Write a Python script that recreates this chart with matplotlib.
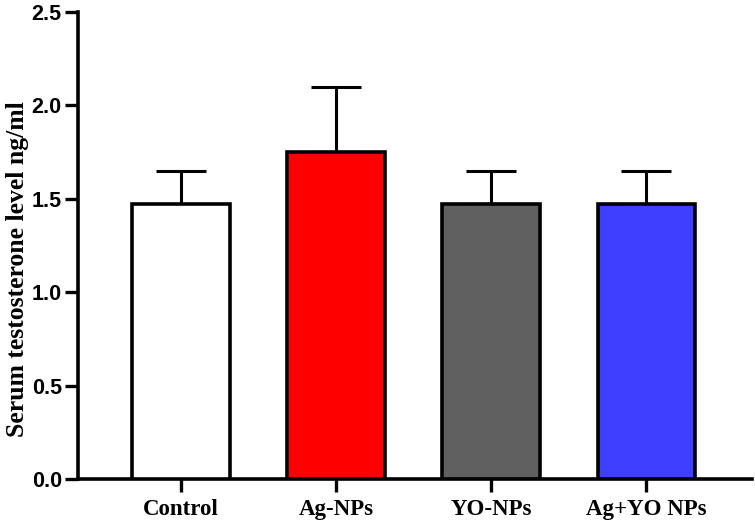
import matplotlib
matplotlib.use("Agg")
import matplotlib.pyplot as plt

# data
groups = ["Control", "Ag-NPs", "YO-NPs", "Ag+YO NPs"]
means = [1.47, 1.75, 1.47, 1.47]
errors = [0.18, 0.35, 0.18, 0.18]
colors = ["#ffffff", "#ff0000", "#606060", "#3f3fff"]
yticks = [0.0, 0.5, 1.0, 1.5, 2.0, 2.5]

fig = plt.figure(figsize=(7.55, 5.23), dpi=100)
ax = fig.add_axes([0.103, 0.084, 0.893, 0.893])

x = list(range(len(groups)))
ax.bar(x, means, width=0.63, color=colors, edgecolor="black", linewidth=2.6, zorder=3)
ax.errorbar(x, means, yerr=[[0] * len(errors), errors], fmt="none",
            ecolor="black", elinewidth=2.2, capsize=18, capthick=2.2, zorder=2)

ax.set_xlim(-0.665, 3.68)
ax.set_ylim(0, 2.5)
ax.set_yticks(yticks)
ax.set_yticklabels([f"{v:.1f}" for v in yticks], family="Liberation Sans",
                   fontweight="bold", fontsize=15.5)
ax.set_xticks(x)
ax.set_xticklabels(groups, family="Liberation Serif", fontweight="bold", fontsize=16.5)

for side in ["top", "right"]:
    ax.spines[side].set_visible(False)
for side in ["left", "bottom"]:
    ax.spines[side].set_linewidth(2.6)
ax.tick_params(axis="both", width=2.4, length=9.5, color="black")
ax.tick_params(axis="y", pad=2)
ax.tick_params(axis="x", pad=5)

ax.set_ylabel("Serum testosterone level ng/ml", family="Liberation Serif",
              fontweight="bold", fontsize=18.5)
ax.yaxis.set_label_coords(-0.072, 0.45)

fig.savefig("out.png", dpi=100)
